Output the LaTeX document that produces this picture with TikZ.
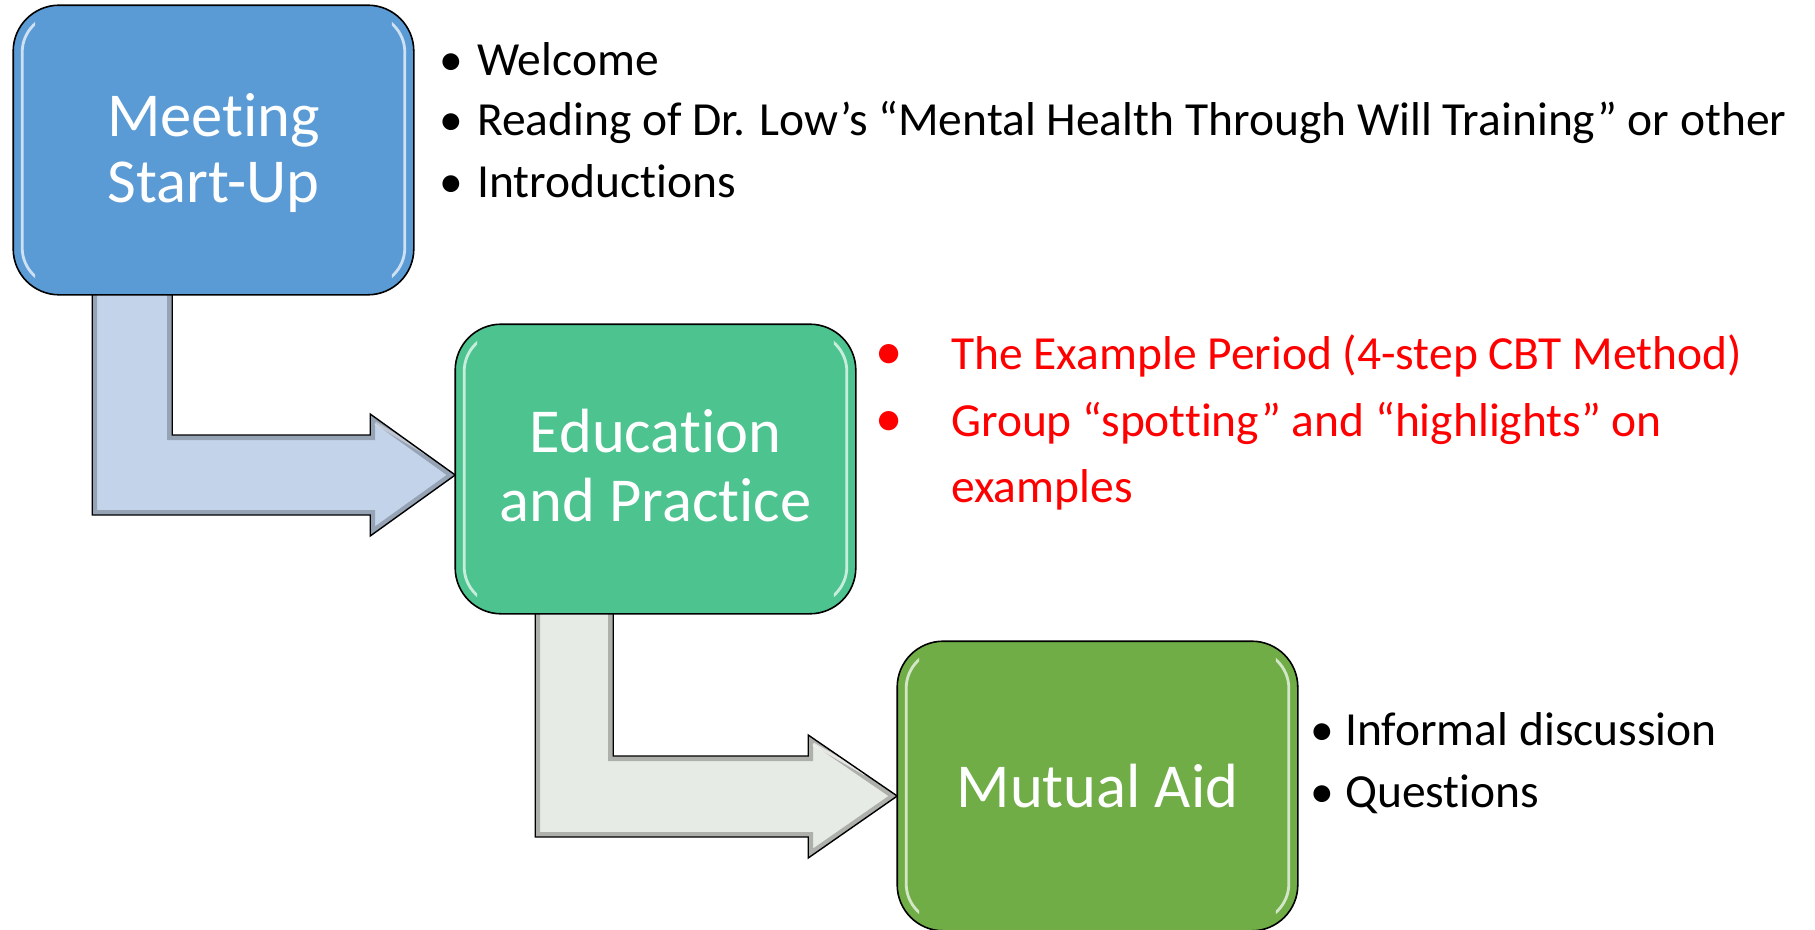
\documentclass[tikz,border=0pt]{standalone}
\usepackage{fontspec}
\setmainfont{Carlito}[RawFeature={-liga;-calt;-dlig;-clig}]
\usetikzlibrary{calc}

\definecolor{startblue}{HTML}{5B9BD5}
\definecolor{edugreen}{HTML}{4DC48F}
\definecolor{aidgreen}{HTML}{70AD47}
\definecolor{arrowblue}{HTML}{C3D3EA}
\definecolor{arrowgrey}{HTML}{E7EBE5}
\definecolor{listred}{HTML}{FF0000}

\begin{document}
\begin{tikzpicture}[x=1pt, y=-1pt,
  stagebox/.style={draw=black, line width=1.6pt, rounded corners=46pt,
    minimum width=399pt, minimum height=288pt, inner sep=0pt},
  stagetext/.style={text=white, font=\fontsize{62.5}{68}\selectfont,
    anchor=base, inner sep=0pt},
  item/.style={font=\fontsize{47.5}{60}\selectfont, anchor=base west, inner sep=0pt},
  dot/.style={font=\fontsize{47.5}{60}\selectfont, anchor=base, inner sep=0pt},
  shine/.style={draw=white, opacity=0.7, line width=2.8pt, rounded corners=38pt},
]
\useasboundingbox (0,0) rectangle (1815,929);

% ---- stage boxes (placed first so the arrows can refer to them) ----
\path (213.5,150) node[stagebox] (b1) {};
\path (655.5,469) node[stagebox] (b2) {};
\path (1097.5,786) node[stagebox] (b3) {};

% ---- bent block arrows between the stages ----
\coordinate (T1) at ($(b2.west)+(0,6)$);
\coordinate (L1) at ($(b1.south west)+(79,-14)$);
\coordinate (R1) at ($(b1.south west)+(159,-14)$);
\coordinate (T1lo) at ($(T1)+(0,40)$);
\coordinate (T1hi) at ($(T1)+(0,-40)$);
\def\ArrowOne{(L1) -- (L1 |- T1lo) -- ($(T1)+(-85,40)$) -- ($(T1)+(-85,61)$)
  -- (T1) -- ($(T1)+(-85,-61)$) -- ($(T1)+(-85,-40)$) -- (R1 |- T1hi) -- (R1) -- cycle}

\coordinate (T2) at ($(b3.west)+(0,10)$);
\coordinate (L2) at ($(b2.south west)+(80,-14)$);
\coordinate (R2) at ($(b2.south west)+(158,-14)$);
\coordinate (T2lo) at ($(T2)+(0,41)$);
\coordinate (T2hi) at ($(T2)+(0,-40)$);
\def\ArrowTwo{(L2) -- (L2 |- T2lo) -- ($(T2)+(-89,41)$) -- ($(T2)+(-89,62)$)
  -- (T2) -- ($(T2)+(-89,-61)$) -- ($(T2)+(-89,-40)$) -- (R2 |- T2hi) -- (R2) -- cycle}

\fill[arrowblue] \ArrowOne;
\begin{scope}
  \clip \ArrowOne;
  \draw[arrowblue!55!black, opacity=0.5, line width=10pt, line join=miter] \ArrowOne;
  \draw[white, opacity=0.4, line width=3pt] ($(T1)+(-80,-52)$) -- ($(T1)+(-30,-22)$);
\end{scope}
\draw[black, line width=1.4pt, line join=miter] \ArrowOne;

\fill[arrowgrey] \ArrowTwo;
\begin{scope}
  \clip \ArrowTwo;
  \draw[arrowgrey!50!black, opacity=0.5, line width=10pt, line join=miter] \ArrowTwo;
  \draw[white, opacity=0.7, line width=3pt] ($(T2)+(-84,-52)$) -- ($(T2)+(-32,-22)$);
\end{scope}
\draw[black, line width=1.4pt, line join=miter] \ArrowTwo;

% ---- box fills drawn over the arrow ends ----
\foreach \b/\c in {b1/startblue, b2/edugreen, b3/aidgreen}{
  \fill[\c, rounded corners=46pt] (\b.north west) rectangle (\b.south east);
  \begin{scope}
    \clip (\b.north west) rectangle ($(\b.south west)+(22,0)$);
    \draw[shine] ($(\b.north west)+(9,9)$) rectangle ($(\b.south east)+(-9,-9)$);
  \end{scope}
  \begin{scope}
    \clip ($(\b.north east)+(-22,0)$) rectangle (\b.south east);
    \draw[shine] ($(\b.north west)+(9,9)$) rectangle ($(\b.south east)+(-9,-9)$);
  \end{scope}
  \draw[black, line width=1.6pt, rounded corners=46pt] (\b.north west) rectangle (\b.south east);
}

% ---- stage titles ----
\node[stagetext] (b1l1) at ($(b1.center)+(0,-14)$) {Meeting};
\node[stagetext] (b1l2) at ($(b1.center)+(0,52)$) {Start-Up};
\node[stagetext] (b2l1) at ($(b2.center)+(0,-17)$) {Education};
\node[stagetext] (b2l2) at ($(b2.center)+(0,52)$) {and Practice};
\node[stagetext] (b3l1) at ($(b3.center)+(0,21)$) {Mutual Aid};

% ---- meeting start-up items ----
\node[dot] (d1) at (451,75) {•};
\node[item] (i1) at (477,75) {Welcome};
\node[dot] (d2) at (451,135) {•};
\node[item] (i2) at (477,135) {Reading of Dr. Low’s “Mental Health Through Will Training” or other};
\node[dot] (d3) at (451,197) {•};
\node[item] (i3) at (477,197) {Introductions};

% ---- education and practice items ----
\begin{scope}[text=listred]
\node[dot, scale=1.15] (d4) at (889,369) {•};
\node[item] (i4) at (951,369) {The Example Period (4-step CBT Method)};
\node[dot, scale=1.15] (d5) at (889,436) {•};
\node[item] (i5) at (951,436) {Group “spotting” and “highlights” on};
\node[item] (i6) at (951,502) {examples};
\end{scope}

% ---- mutual aid items ----
\node[dot] (d7) at (1322,745) {•};
\node[item] (i7) at (1345,745) {Informal discussion};
\node[dot] (d8) at (1322,807) {•};
\node[item] (i8) at (1345,807) {Questions};
\end{tikzpicture}
\end{document}
